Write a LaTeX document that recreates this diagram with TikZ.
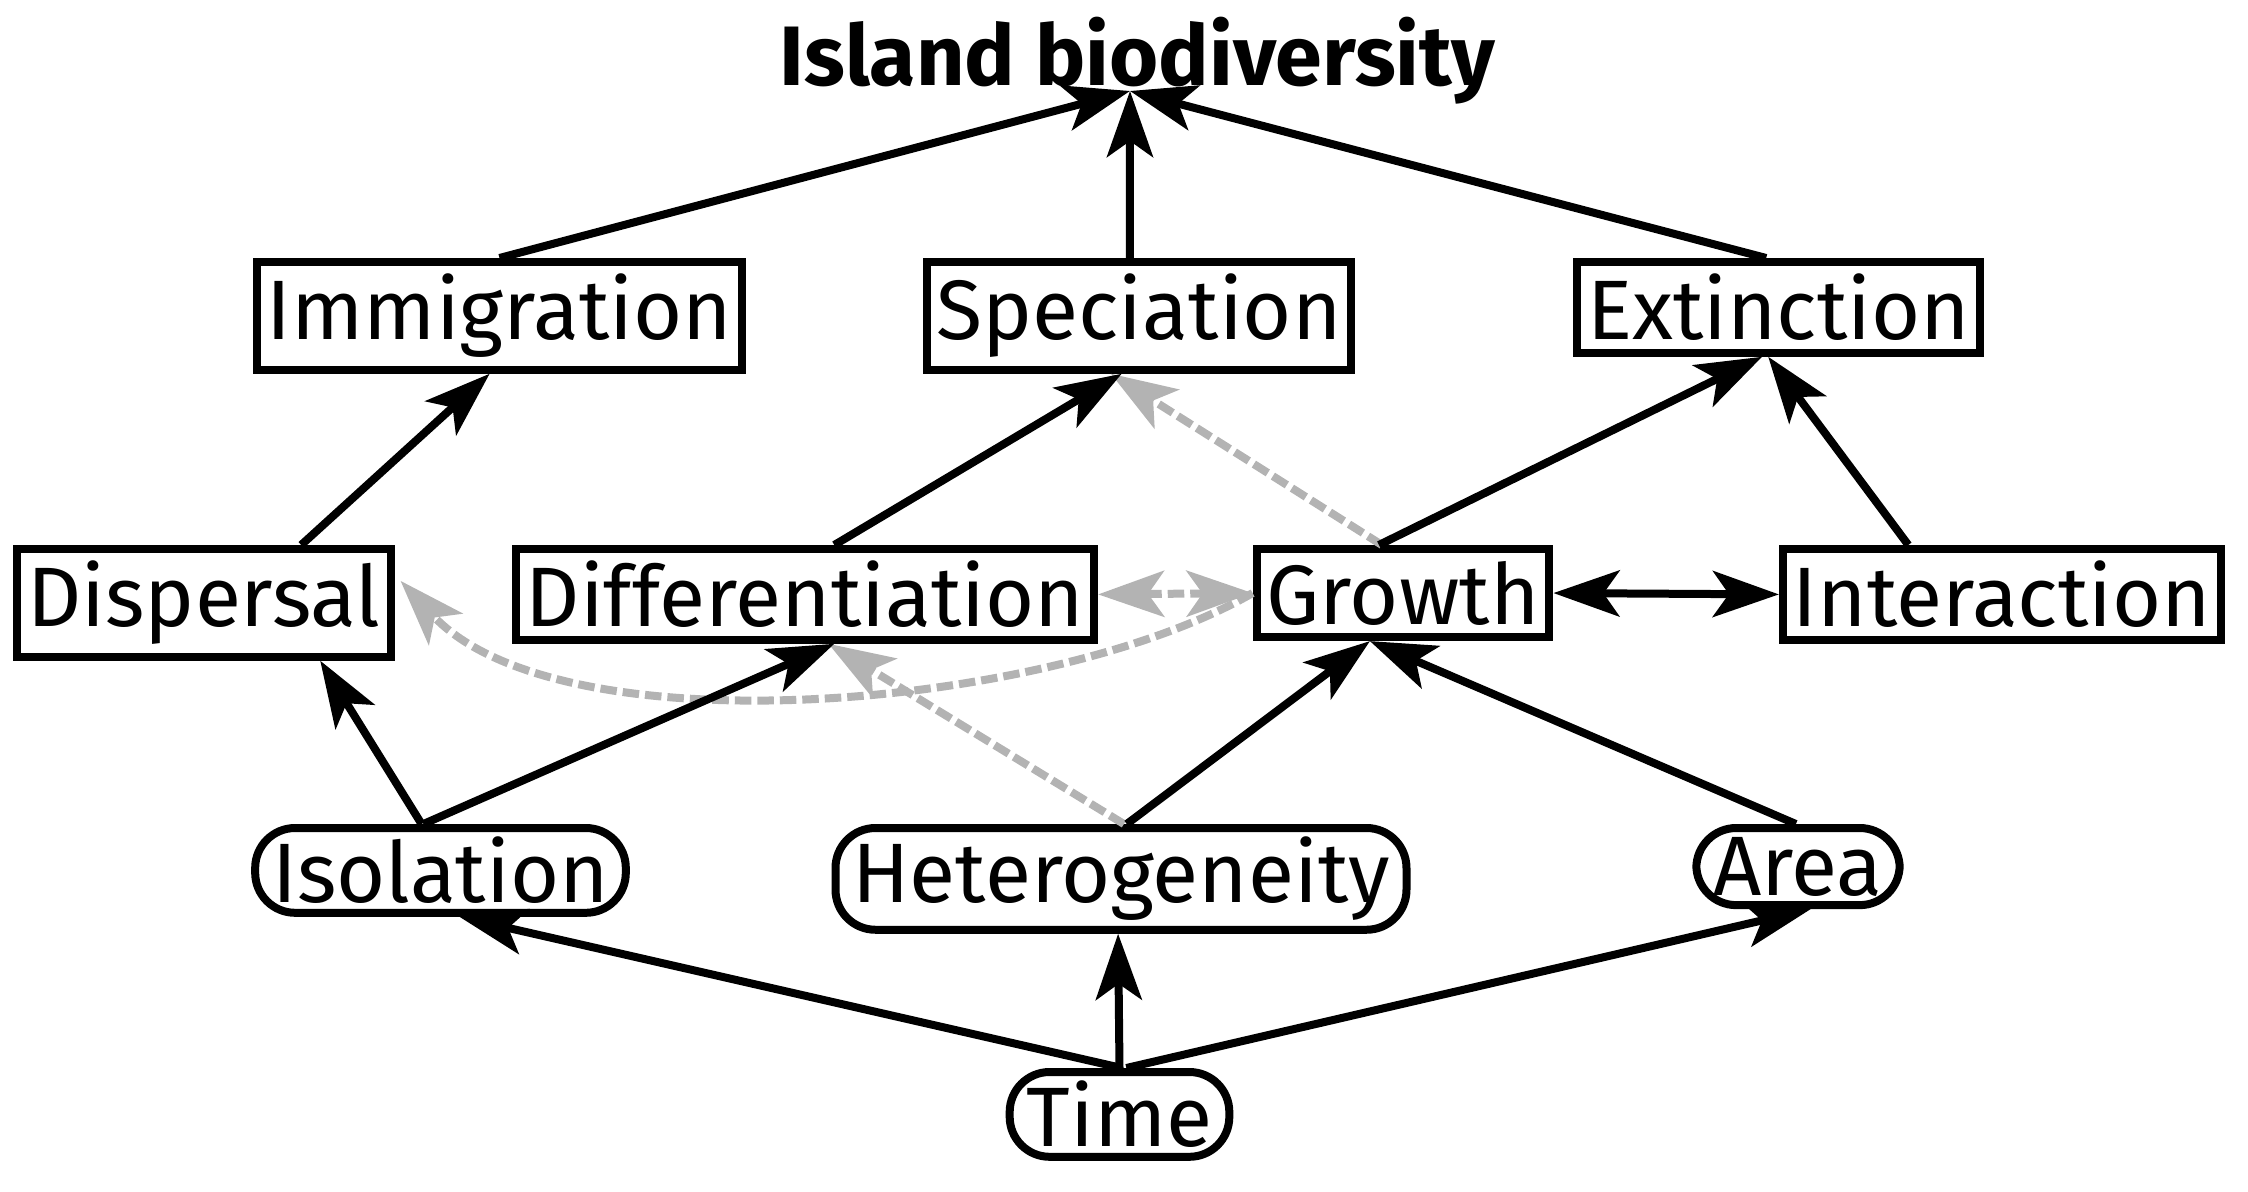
\documentclass[tikz,border=0pt]{standalone}
\usepackage{fontspec}
\setmainfont{Fira Sans}
\usetikzlibrary{arrows.meta,calc}
\definecolor{lgrey}{RGB}{179,179,179}
\begin{document}
\begin{tikzpicture}[
  lbl/.style={font=\fontsize{24}{28}\selectfont, anchor=north, line width=0.8mm},
  boxnode/.style={lbl, draw, rectangle, inner xsep=1.0mm, inner ysep=1.2mm},
  roundnode/.style={lbl, draw, rectangle, rounded corners=4mm, inner xsep=1.7mm, inner ysep=0.9mm},
  tip/.tip={Stealth[length=6.6mm, width=4.6mm, inset=1.6mm]},
  arr/.style={line width=0.8mm, -tip},
  arrboth/.style={line width=0.8mm, tip-tip},
  garr/.style={line width=0.8mm, lgrey, dash pattern=on 1.65mm off 0.6mm, -tip},
  garrboth/.style={line width=0.8mm, lgrey, dash pattern=on 1.65mm off 0.6mm, tip-tip}
]
\useasboundingbox (0,0) rectangle (22.48,-11.92);

\node[font=\fontsize{24}{28}\selectfont\bfseries, anchor=base, inner sep=0pt] (title) at (11.375,-0.86) {Island biodiversity};
\coordinate (titlein) at ($(title.base)+(-0.075,-0.05)$);

\node[boxnode] (imm) at (4.995,-2.58) {Immigration};
\node[boxnode] (spe) at (11.39,-2.58) {Speciation};
\node[boxnode] (ext) at (17.785,-2.58) {Extinction};

\node[boxnode] (dis) at (2.04,-5.45) {Dispersal};
\node[boxnode] (dif) at (8.05,-5.45) {Differentiation};
\node[boxnode] (gro) at (14.03,-5.45) {Growth};
\node[boxnode] (int) at (20.02,-5.45) {Interaction};

\node[roundnode] (iso) at (4.405,-8.24) {Isolation};
\node[roundnode] (het) at (11.21,-8.24) {Heterogeneity};
\node[roundnode] (are) at (17.98,-8.24) {Area};

\node[roundnode] (tim) at (11.195,-10.68) {Time};

% grey dashed connectors
\draw[garr] ($(gro.north west)!0.43!(gro.north east)$) -- ($(spe.south west)!0.435!(spe.south east)$);
\draw[garr] ($(het.north west)!0.505!(het.north east)$) -- ($(dif.south west)!0.54!(dif.south east)$);
\draw[garr] (gro.west) to[out=210,in=-47,looseness=0.7] ($(dis.east)+(0.06,0.22)$);
\draw[garrboth] (dif.east) -- (gro.west);

% black connectors
\draw[arr] (imm.north) -- (titlein);
\draw[arr] ($(spe.north west)!0.479!(spe.north east)$) -- (titlein);
\draw[arr] ($(ext.north west)!0.47!(ext.north east)$) -- (titlein);
\draw[arr] ($(dis.north west)!0.755!(dis.north east)$) -- ($(imm.south west)!0.48!(imm.south east)$);
\draw[arr] ($(dif.north west)!0.55!(dif.north east)$) -- ($(spe.south west)!0.46!(spe.south east)$);
\draw[arr] ($(gro.north west)!0.42!(gro.north east)$) -- ($(ext.south west)!0.46!(ext.south east)$);
\draw[arr] ($(int.north west)!0.29!(int.north east)$) -- ($(ext.south west)!0.475!(ext.south east)$);
\draw[arrboth] (gro.east) -- (int.west);
\draw[arr] ($(iso.north west)!0.45!(iso.north east)$) -- ($(dis.south west)!0.805!(dis.south east)$);
\draw[arr] ($(iso.north west)!0.455!(iso.north east)$) -- ($(dif.south west)!0.55!(dif.south east)$);
\draw[arr] ($(het.north west)!0.51!(het.north east)$) -- ($(gro.south west)!0.39!(gro.south east)$);
\draw[arr] ($(are.north west)!0.49!(are.north east)$) -- ($(gro.south west)!0.39!(gro.south east)$);
\draw[arr] ($(tim.north west)!0.51!(tim.north east)$) -- ($(iso.south west)!0.55!(iso.south east)$);
\draw[arr] ($(tim.north west)!0.5!(tim.north east)$) -- ($(het.south west)!0.495!(het.south east)$);
\draw[arr] ($(tim.north west)!0.53!(tim.north east)$) -- ($(are.south west)!0.56!(are.south east)$);
\end{tikzpicture}
\end{document}
